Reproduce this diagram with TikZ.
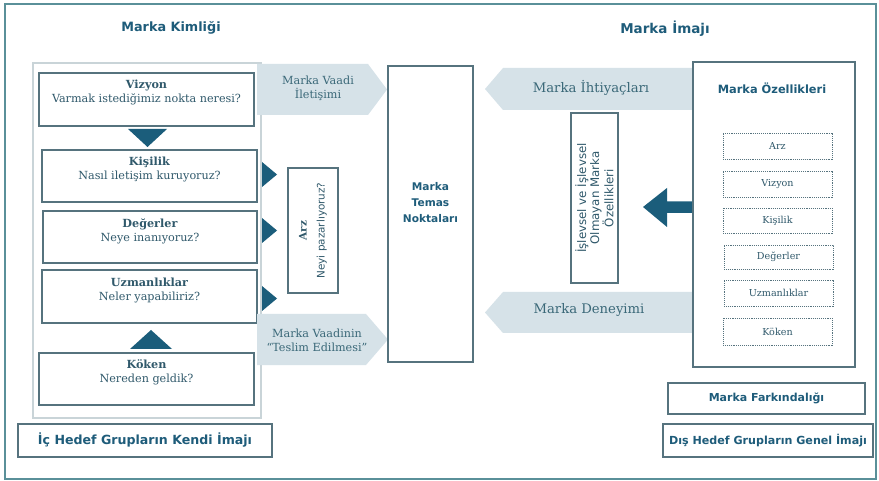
\documentclass[tikz,border=0pt]{standalone}
\usepackage{fontspec}
\setmainfont{DejaVu Serif}
\setsansfont{DejaVu Sans}
\usetikzlibrary{calc}

\definecolor{framec}{HTML}{5A9099}
\definecolor{boxc}{HTML}{56737E}
\definecolor{contc}{HTML}{C9D4D8}
\definecolor{bandc}{HTML}{D6E2E8}
\definecolor{darkc}{HTML}{1B5D7B}
\definecolor{titlec}{HTML}{1E5C7A}
\definecolor{serifc}{HTML}{30596B}
\definecolor{bandtext}{HTML}{3A6878}

\tikzset{
  rbox/.style n args={2}{minimum width=#1pt, minimum height=#2pt, inner sep=0pt},
  box/.style={draw=boxc, line width=1.1pt, fill=white},
  dotbox/.style={draw=boxc, line width=0.9pt, densely dotted, fill=white},
  band/.style={fill=bandc},
  tri/.style={fill=darkc},
  title/.style={font=\sffamily\bfseries\fontsize{12.8}{15}\selectfont, text=titlec},
  boxtext/.style={font=\fontsize{11.2}{14}\selectfont, text=serifc, align=center, inner sep=0pt},
  bandtxt/.style={font=\fontsize{11.2}{14}\selectfont, text=bandtext, align=center, inner sep=0pt},
  bandbig/.style={font=\fontsize{13.2}{15}\selectfont, text=bandtext, align=center, inner sep=0pt},
  smalltxt/.style={font=\fontsize{9.6}{11}\selectfont, text=serifc, inner sep=0pt},
}

\begin{document}
\begin{tikzpicture}[x=1pt, y=-1pt]
\useasboundingbox (0,0) rectangle (879,481);
\fill[white] (0,0) rectangle (879,481);

% outer frame
\node[rbox={871}{475}, draw=framec, line width=1.5pt] (frame) at (440.5,241.5) {};

% headings
\node[title] (kimlik) at (171,28) {Marka Kimliği};
\node[title, font=\sffamily\bfseries\fontsize{13.5}{15}\selectfont] (imaj) at (665,29) {Marka İmajı};

% left: brand identity column
\node[rbox={228}{355}, draw=contc, line width=1.4pt, fill=white] (cont) at (147,240.5) {};

\node[rbox={215}{53}, box] (viz) at (146.5,99.5) {};
\node[boxtext] at ($(viz.center)+(0,-7)$) {\textbf{Vizyon}\\Varmak istediğimiz nokta neresi?};

\node[rbox={215}{52}, box] (kis) at (149.5,176) {};
\node[boxtext] at ($(kis.center)+(0,-7)$) {\textbf{Kişilik}\\Nasıl iletişim kuruyoruz?};

\node[rbox={214}{52}, box] (deg) at (150,237) {};
\node[boxtext] at ($(deg.center)+(0,-6)$) {\textbf{Değerler}\\Neye inanıyoruz?};

\node[rbox={215}{53}, box] (uzm) at (149.5,296.5) {};
\node[boxtext] at ($(uzm.center)+(0,-6)$) {\textbf{Uzmanlıklar}\\Neler yapabiliriz?};

\node[rbox={215}{52}, box] (kok) at (146.5,379) {};
\node[boxtext] at ($(kok.center)+(0,-7)$) {\textbf{Köken}\\Nereden geldik?};

% triangles between the identity boxes
\fill[tri] (128,129) -- (167,129) -- (147.5,147) -- cycle;
\fill[tri] (130,349) -- (172,349) -- (151,330) -- cycle;

\node[rbox={254}{33}, box] (ich) at (145,440.5) {};
\node[title, font=\sffamily\bfseries\fontsize{12.6}{15}\selectfont] at (ich.center) {İç Hedef Grupların Kendi İmajı};

% bands towards the touch points
\fill[band] (257,64) -- (368,64) -- (387,89.5) -- (368,115) -- (257,115) -- cycle;
\node[bandtxt] (vaadi) at (318,88) {Marka Vaadi\\İletişimi};

\fill[band] (257,314) -- (366,314) -- (388,339.5) -- (366,365) -- (257,365) -- cycle;
\node[bandtxt] (teslim) at (317,340) {Marka Vaadinin\\“Teslim Edilmesi”};

% small arrows into the offer box
\fill[tri] (262,162) -- (277,174.5) -- (262,187) -- cycle;
\fill[tri] (262,218) -- (277,230.5) -- (262,243) -- cycle;
\fill[tri] (262,286) -- (277,298.5) -- (262,311) -- cycle;

\node[rbox={50}{125}, box] (arz) at (313,230.5) {};
\node[rotate=90, align=center, inner sep=0pt, text=serifc,
      font=\fontsize{10.4}{18}\selectfont] at (arz.center)
  {\textbf{Arz}\\\sffamily Neyi pazarlıyoruz?};

% touch points
\node[rbox={85}{296}, box] (temas) at (430.5,214) {};
\node[align=center, inner sep=0pt, text=titlec,
      font=\sffamily\bfseries\fontsize{10.6}{16}\selectfont] at (430.5,203)
  {Marka\\Temas\\Noktaları};

% right: brand image
\fill[band] (693,68) -- (503,68) -- (485,89) -- (503,110) -- (693,110) -- cycle;
\node[bandbig] (ihtiyac) at (591,88) {Marka İhtiyaçları};

\fill[band] (693,292) -- (503,292) -- (485,312.5) -- (503,333) -- (693,333) -- cycle;
\node[bandbig] (deneyim) at (589,310) {Marka Deneyimi};

\node[rbox={47}{170}, box] (isl) at (594.5,198) {};
\node[rotate=90, align=center, inner sep=0pt, text=serifc,
      font=\sffamily\fontsize{11.8}{13}\selectfont] at (isl.center)
  {İşlevsel ve İşlevsel\\Olmayan Marka\\Özellikleri};

\fill[tri] (643,207) -- (667,188) -- (667,201.5) -- (693,201.5) -- (693,213)
  -- (667,213) -- (667,227) -- cycle;

\node[rbox={162}{305}, box] (ozel) at (774,214.5) {};
\node[title, font=\sffamily\bfseries\fontsize{11.4}{14}\selectfont] at (772,88) {Marka Özellikleri};

\node[rbox={109}{26}, dotbox] (o1) at (777.5,146) {};
\node[smalltxt] at (o1) {Arz};
\node[rbox={109}{26}, dotbox] (o2) at (777.5,184) {};
\node[smalltxt] at (o2) {Vizyon};
\node[rbox={109}{25}, dotbox] (o3) at (777.5,220.5) {};
\node[smalltxt] at (o3) {Kişilik};
\node[rbox={109}{24}, dotbox] (o4) at (778.5,257) {};
\node[smalltxt] at (o4) {Değerler};
\node[rbox={109}{26}, dotbox] (o5) at (778.5,293) {};
\node[smalltxt] at (o5) {Uzmanlıklar};
\node[rbox={109}{27}, dotbox] (o6) at (777.5,331.5) {};
\node[smalltxt] at (o6) {Köken};

\node[rbox={197}{31}, box] (fark) at (766.5,398.5) {};
\node[title, font=\sffamily\bfseries\fontsize{11}{14}\selectfont] at (fark.center) {Marka Farkındalığı};

\node[rbox={210}{33}, box] (dis) at (768,440.5) {};
\node[title, font=\sffamily\bfseries\fontsize{11.1}{14}\selectfont] at (dis.center) {Dış Hedef Grupların Genel İmajı};
\end{tikzpicture}
\end{document}
